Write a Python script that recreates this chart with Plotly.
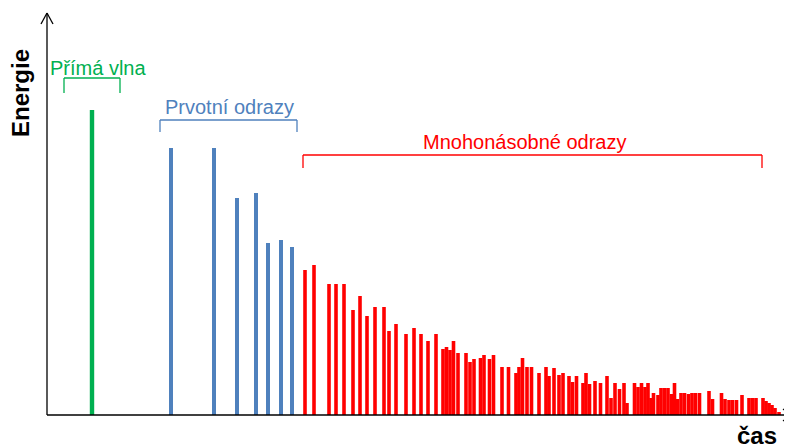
import plotly.graph_objects as go

# čas (time) and energie values, baseline = 0
direct_t = [92]
direct_e = [305]

early_t = [171, 214, 237, 256, 268, 281, 292]
early_e = [267, 267, 217, 222, 172, 175, 168]

late_t = [305, 314, 329, 336, 344, 353, 360, 367, 375, 384, 389, 396, 406, 414, 421, 428, 436,
          443, 446.5, 450, 453.5, 458, 466, 470, 474, 480.5, 484, 489.5, 493.5, 502, 508.5,
          516, 519, 522.5, 527, 531.5, 539, 546, 549, 554, 559, 563, 569, 572.5, 576.5,
          583, 586, 589.5, 595, 600.5, 607, 611, 615, 619.5, 624, 627, 634.5, 638, 641.5,
          645, 648, 651, 653.5, 658, 661, 664.5, 668, 671.5, 674.5, 677.5, 681, 684.5,
          688.5, 692, 695.5, 699.5, 709, 712.5, 721.5, 725, 729, 732.5, 736.5, 742, 749,
          752.5, 756, 763, 766, 769, 772, 775, 779]
late_top = [270, 265, 284, 284, 284, 310, 296, 316, 307, 307, 331, 324, 334, 328, 334, 341, 334,
            349, 347, 350, 341, 353, 353, 362, 359, 358, 355, 359, 355, 367, 367,
            373, 367, 358, 367, 367, 373, 367, 376, 368, 375, 373, 376, 382, 376,
            383, 373, 384, 381, 383, 376, 398, 383, 389, 383, 403, 383, 387, 383,
            387, 383, 398, 393, 395, 388, 388, 388, 394, 383, 399, 393, 393,
            394, 393, 393, 393, 391, 399, 393, 399, 400, 400, 400, 395, 398,
            398, 398, 398, 401, 403, 405, 408, 412]
late_e = [415 - v for v in late_top]

GREEN = "#00B050"
BLUE = "#4F81BD"
RED = "#FF0000"
FONT = "Liberation Sans, Arial, sans-serif"

fig = go.Figure()
fig.add_trace(go.Bar(x=direct_t, y=direct_e, width=4.4, marker_color=GREEN, marker_line_width=0))
fig.add_trace(go.Bar(x=early_t, y=early_e, width=4, marker_color=BLUE, marker_line_width=0))
fig.add_trace(go.Bar(x=late_t, y=late_e, width=3.6, marker_color=RED, marker_line_width=0))

# ---------------- axes drawn as lines with open arrowheads ---------------- #
ax_line = dict(color="black", width=1.3)
shapes = [
    dict(type="line", x0=47, y0=0, x1=47, y1=402, line=ax_line),
    dict(type="line", x0=41, y0=391, x1=47, y1=402, line=ax_line),
    dict(type="line", x0=53, y0=391, x1=47, y1=402, line=ax_line),
    dict(type="line", x0=47, y0=0, x1=791, y1=0, line=ax_line),
    dict(type="line", x0=783, y0=6, x1=791, y1=0, line=ax_line),
    dict(type="line", x0=783, y0=-6, x1=791, y1=0, line=ax_line),
]


def bracket(x0, x1, y, leg, color):
    return [
        dict(type="line", x0=x0, y0=y, x1=x1, y1=y, line=dict(color=color, width=1.3)),
        dict(type="line", x0=x0, y0=y, x1=x0, y1=y - leg, line=dict(color=color, width=1.3)),
        dict(type="line", x0=x1, y0=y, x1=x1, y1=y - leg, line=dict(color=color, width=1.3)),
    ]


shapes += bracket(64, 120, 415 - 78, 15, GREEN)
shapes += bracket(160, 297, 415 - 120, 12, BLUE)
shapes += bracket(303, 762, 415 - 155, 13, RED)

annotations = [
    dict(x=98, y=415 - 68, text="Přímá vlna", font=dict(color=GREEN, size=20, family=FONT)),
    dict(x=229, y=415 - 107, text="Prvotní odrazy", font=dict(color=BLUE, size=20, family=FONT)),
    dict(x=524, y=415 - 142, text="Mnohonásobné odrazy", font=dict(color=RED, size=20, family=FONT)),
    dict(x=20, y=415 - 93, text="<b>Energie</b>", textangle=-90,
         font=dict(color="black", size=24, family=FONT)),
    dict(x=757, y=415 - 435, text="<b>čas</b>", font=dict(color="black", size=24, family=FONT)),
]
for a in annotations:
    a.update(showarrow=False, xref="x", yref="y")

# the page body has an 8px margin, so the figure is 8px smaller and the ranges start at 8
fig.update_layout(
    width=784, height=440,
    margin=dict(l=0, r=0, t=0, b=0),
    plot_bgcolor="white", paper_bgcolor="white",
    showlegend=False, barmode="overlay",
    xaxis=dict(range=[8, 792], visible=False, fixedrange=True),
    yaxis=dict(range=[-33, 407], visible=False, fixedrange=True),
    shapes=shapes,
    annotations=annotations,
)

fig.write_html("out.html")
